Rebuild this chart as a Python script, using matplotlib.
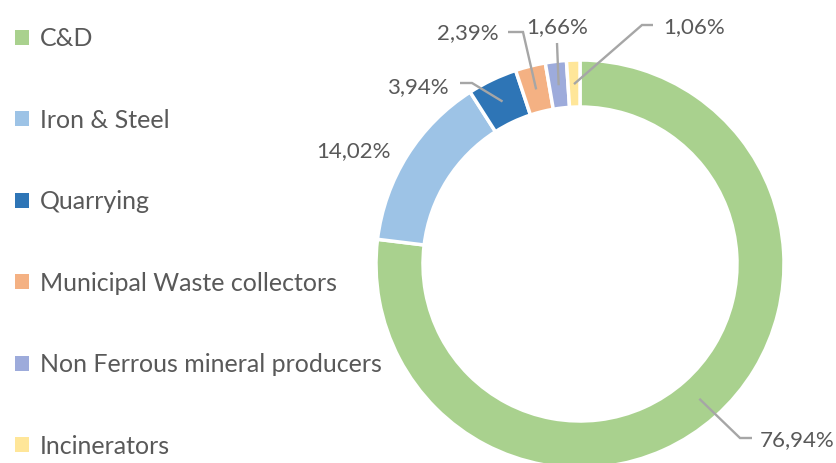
import matplotlib
matplotlib.use('Agg')
import matplotlib.pyplot as plt
from matplotlib.patches import Patch
import numpy as np

plt.rcParams['font.family'] = ['Lato', 'DejaVu Sans']

sectors = ["C&D", "Iron & Steel", "Quarrying", "Municipal Waste collectors",
           "Non Ferrous mineral producers", "Incinerators"]
shares = [76.94, 14.02, 3.94, 2.39, 1.66, 1.06]
colors = ["#A9D18E", "#9DC3E6", "#2E75B6", "#F4B183", "#9DABDB", "#FFE699"]

# label centres and leader lines (elbow, end) in pixel-like data coords, y up
label_pos = [(797, 23), (353, 312), (418, 376), (468, 430), (557, 436), (694, 436)]
leader = [((740, 25), (752, 25)), None, ((472, 380), (460, 380)),
          ((523, 431), (508, 431)), ((557, 420), (557, 420)),
          ((642, 438), (653, 438))]

W, H = 836, 463
fig = plt.figure(figsize=(W / 100, H / 100), dpi=100)
ax = fig.add_axes([0, 0, 1, 1])

center = (580, 199)
R = 204
wedges, _ = ax.pie(shares, colors=colors, startangle=90, counterclock=False,
                   center=center, radius=R,
                   wedgeprops=dict(width=47, edgecolor='white', linewidth=2.5))
ax.set_xlim(0, W)
ax.set_ylim(0, H)
ax.set_aspect('equal')
ax.axis('off')

text_col = '#595959'
line_col = '#A6A6A6'
for w, val, pos, ld in zip(wedges, shares, label_pos, leader):
    if ld is not None:
        mid = np.deg2rad((w.theta1 + w.theta2) / 2)
        rr = R - 24
        sx, sy = center[0] + rr * np.cos(mid), center[1] + rr * np.sin(mid)
        (ex, ey), (tx, ty) = ld
        ax.plot([sx, ex, tx], [sy, ey, ty], color=line_col, lw=1.7,
                solid_capstyle='butt', solid_joinstyle='miter')
    txt = f"{val:.2f}%".replace('.', ',')
    ax.text(pos[0], pos[1], txt, ha='center', va='center',
            fontsize=16, color=text_col)

handles = [Patch(facecolor=c, edgecolor='none') for c in colors]
fig.legend(handles, sectors, loc='upper left', bbox_to_anchor=(0.0, 0.974),
           frameon=False, fontsize=18, labelcolor=text_col,
           handlelength=0.55, handleheight=0.55, handletextpad=0.45,
           labelspacing=2.34, borderaxespad=0.2)

fig.savefig('out.png', dpi=100)
